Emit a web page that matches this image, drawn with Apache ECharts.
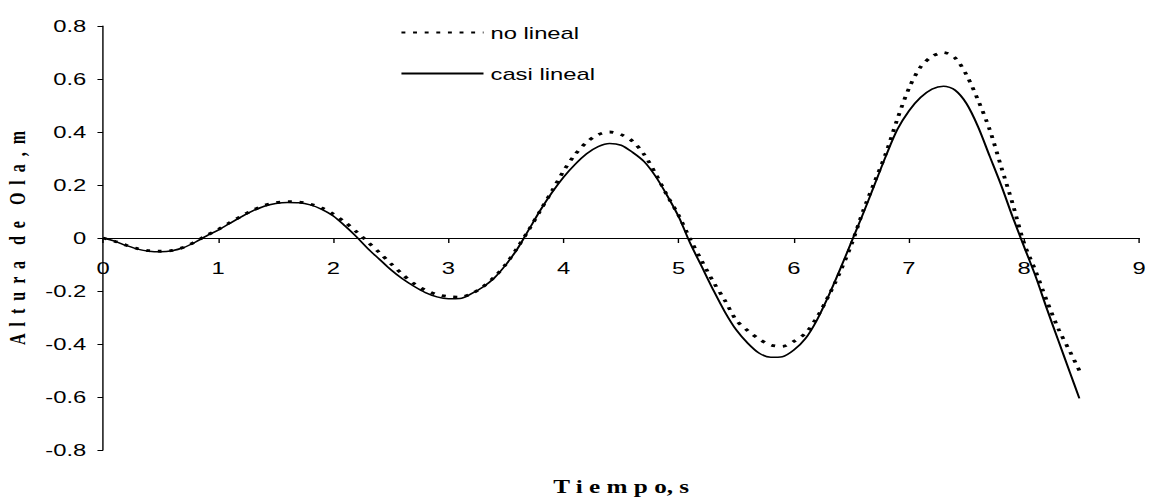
<!DOCTYPE html>
<html>
<head>
<meta charset="utf-8">
<script src="https://cdn.jsdelivr.net/npm/echarts@6/dist/echarts.min.js"></script>
<style>
  html, body { margin: 0; padding: 0; background: #fff; overflow: hidden; }
  /* the chart is laid out narrow and widened horizontally */
  #chart { width: 822px; height: 499px; transform: scaleX(1.40024); transform-origin: 0 0; }
</style>
</head>
<body>
<div id="chart"></div>
<script>
// Time samples (s)
const tiempo = [
  0, 0.1, 0.2, 0.3, 0.4, 0.5, 0.6, 0.7, 0.8, 0.9,
  1.0, 1.1, 1.2, 1.3, 1.4, 1.5, 1.6, 1.7, 1.8, 1.9,
  2.0, 2.1, 2.2, 2.3, 2.4, 2.5, 2.6, 2.7, 2.8, 2.9,
  3.0, 3.1, 3.2, 3.3, 3.4, 3.5, 3.6, 3.7, 3.8, 3.9,
  4.0, 4.1, 4.2, 4.3, 4.4, 4.5, 4.6, 4.7, 4.8, 4.9,
  5.0, 5.1, 5.2, 5.3, 5.4, 5.5, 5.6, 5.7, 5.8, 5.9,
  6.0, 6.1, 6.2, 6.3, 6.4, 6.5, 6.6, 6.7, 6.8, 6.9,
  7.0, 7.1, 7.2, 7.3, 7.4, 7.5, 7.6, 7.7, 7.8, 7.9,
  8.0, 8.1, 8.2, 8.3, 8.4, 8.48
];

// Wave height (m), nonlinear solution
const noLineal = [
  0, -0.012, -0.027, -0.04, -0.048, -0.05, -0.047, -0.035, -0.014, 0.01,
  0.032, 0.058, 0.082, 0.105, 0.123, 0.133, 0.137, 0.136, 0.128, 0.113,
  0.09, 0.06, 0.024, -0.015, -0.055, -0.097, -0.137, -0.172, -0.197, -0.213,
  -0.221, -0.223, -0.21, -0.184, -0.147, -0.098, -0.036, 0.032, 0.105, 0.178,
  0.253, 0.315, 0.361, 0.39, 0.4, 0.39, 0.365, 0.315, 0.242, 0.16,
  0.085, -0.005, -0.086, -0.165, -0.235, -0.31, -0.35, -0.382, -0.404, -0.409,
  -0.39, -0.36, -0.3, -0.22, -0.13, -0.025, 0.1, 0.21, 0.32, 0.45,
  0.565, 0.645, 0.685, 0.7, 0.68, 0.615, 0.52, 0.41, 0.27, 0.13,
  -0.02, -0.125, -0.24, -0.345, -0.43, -0.5
];

// Wave height (m), quasi-linear solution
const casiLineal = [
  0, -0.012, -0.028, -0.042, -0.05, -0.052, -0.048, -0.036, -0.016, 0.008,
  0.03, 0.055, 0.08, 0.102, 0.12, 0.13, 0.134, 0.133, 0.125, 0.108,
  0.083, 0.046, 0.005, -0.04, -0.08, -0.12, -0.154, -0.182, -0.206, -0.222,
  -0.229, -0.228, -0.21, -0.185, -0.15, -0.1, -0.04, 0.033, 0.106, 0.172,
  0.23, 0.278, 0.318, 0.345, 0.357, 0.35, 0.323, 0.288, 0.232, 0.16,
  0.08, -0.02, -0.108, -0.196, -0.278, -0.347, -0.397, -0.435, -0.45, -0.448,
  -0.423, -0.38, -0.31, -0.22, -0.12, -0.015, 0.09, 0.2, 0.31, 0.41,
  0.48, 0.53, 0.562, 0.573, 0.558, 0.507, 0.42, 0.31, 0.2, 0.08,
  -0.033, -0.145, -0.27, -0.39, -0.51, -0.605
];

const serieNames = ['no lineal', 'casi lineal'];
const xTitle = 'T i e m p o, s';
const yTitle = 'A  l  t  u  r  a    d  e    O  l  a  ,  m';

const pairs = (ys) => tiempo.map((t, i) => [t, ys[i]]);

const sans = 'Liberation Sans, Arial, sans-serif';
const serif = 'Liberation Serif, Times New Roman, serif';

const chart = echarts.init(document.getElementById('chart'), null, { renderer: 'svg' });

const gridTop = 26, gridBottom = 49;
const plotHeight = 499 - gridTop - gridBottom;
const yMin = -0.8, yMax = 0.8;
// the time axis runs along height 0 of the wave axis
const zeroOffset = -plotHeight * (0 - yMin) / (yMax - yMin);

chart.setOption({
  animation: false,
  backgroundColor: '#fff',
  grid: {
    left: 73.6, right: 8.4, top: gridTop, bottom: gridBottom,
    containLabel: false,
    outerBoundsMode: 'none'
  },
  legend: {
    orient: 'vertical',
    left: 285.7,
    top: 24,
    padding: 0,
    itemWidth: 58.6,
    itemHeight: 14,
    itemGap: 24,
    itemStyle: { opacity: 0 },
    textStyle: { fontFamily: sans, fontSize: 17, color: '#000' },
    data: serieNames
  },
  xAxis: {
    type: 'value',
    min: 0, max: 9, interval: 1,
    offset: zeroOffset,
    name: xTitle,
    nameLocation: 'middle',
    nameGap: 240,
    nameTextStyle: { fontFamily: serif, fontWeight: 'bold', fontSize: 18, color: '#000' },
    axisLine: { onZero: false, lineStyle: { color: '#000', width: 1 } },
    axisTick: { show: true, length: 5, lineStyle: { color: '#000' } },
    axisLabel: { fontFamily: sans, fontSize: 17, color: '#000', margin: 21 },
    splitLine: { show: false }
  },
  yAxis: {
    type: 'value',
    min: yMin, max: yMax, interval: 0.2,
    name: yTitle,
    nameLocation: 'middle',
    nameRotate: 90,
    nameGap: 53,
    nameTextStyle: { fontFamily: serif, fontWeight: 'bold', fontSize: 16, color: '#000' },
    axisLine: { show: true, onZero: false, lineStyle: { color: '#000', width: 1 } },
    axisTick: { show: true, length: 4, lineStyle: { color: '#000' } },
    axisLabel: { fontFamily: sans, fontSize: 17, color: '#000', margin: 12 },
    splitLine: { show: false }
  },
  series: [
    {
      name: serieNames[0],
      type: 'line',
      data: pairs(noLineal),
      symbol: 'none',
      smooth: 0.3,
      lineStyle: { color: '#000', width: 2.8, type: [2.8, 5.5] },
      itemStyle: { color: '#000' },
      z: 3
    },
    {
      name: serieNames[1],
      type: 'line',
      data: pairs(casiLineal),
      symbol: 'none',
      smooth: 0.3,
      lineStyle: { color: '#000', width: 1.5, type: 'solid' },
      itemStyle: { color: '#000' },
      z: 2
    }
  ]
});
</script>
</body>
</html>
